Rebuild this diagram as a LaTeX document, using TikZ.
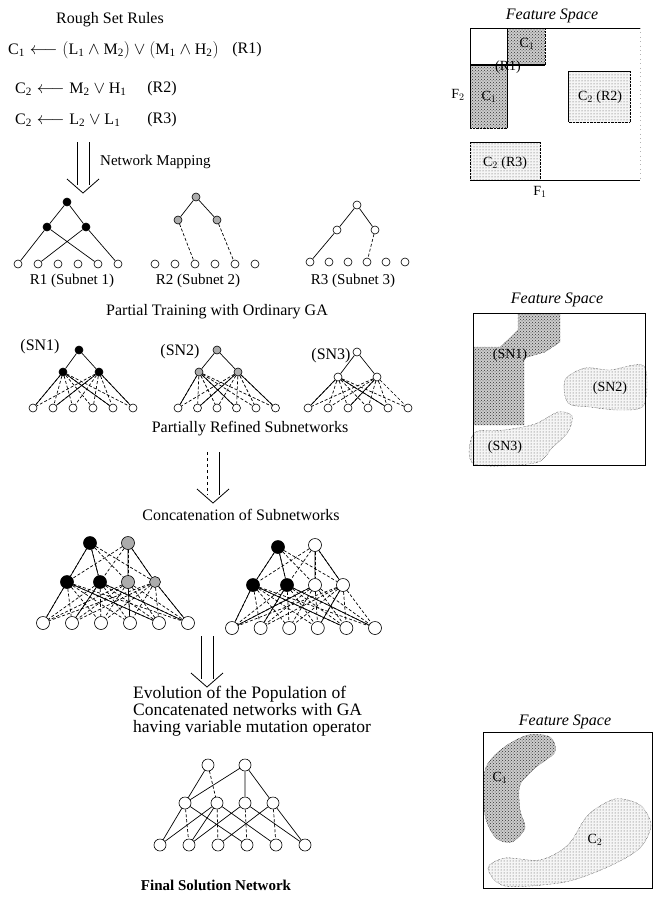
\documentclass[tikz,border=0pt]{standalone}
\usepackage{fontspec}
\setmainfont{Liberation Serif}
\usetikzlibrary{patterns}

\tikzset{
  unit/.style={circle, draw, inner sep=0pt, minimum size=8pt, line width=0.6pt},
  unitB/.style={unit, fill=black},
  unitG/.style={unit, fill=gray!65},
  unitW/.style={unit, fill=white},
  bigB/.style={unitB, minimum size=13pt},
  bigG/.style={unitG, minimum size=13pt},
  bigW/.style={unitW, minimum size=13pt},
  wire/.style={line width=0.7pt},
  dwire/.style={wire, dash pattern=on 3pt off 2pt},
  lbl/.style={font=\fontsize{16}{18}\selectfont, inner sep=0pt},
  fstitle/.style={font=\fontsize{16}{18}\selectfont\itshape, inner sep=0pt},
  zlbl/.style={font=\fontsize{14}{16}\selectfont, inner sep=0pt},
  frame/.style={line width=0.9pt},
  darkzone/.style={preaction={fill=gray!40}, pattern=crosshatch dots, pattern color=black!80},
  lightzone/.style={preaction={fill=gray!8}, pattern=dots, pattern color=black!70},
  pics/bigdown/.style={code={
    \draw[line width=0.8pt, #1] (-6,0) -- (-6,43);
    \draw[line width=0.8pt] (6,0) -- (6,43);
    \draw[line width=0.8pt] (-16,37) -- (0,51) -- (16,37);
  }},
  pics/bigdown/.default=solid
}

\begin{document}
\begin{tikzpicture}[x=1pt, y=-1pt]
  \useasboundingbox (0,0) rectangle (654,897);

  % rough set rules
  \node[lbl] (title) at (110,20) {Rough Set Rules};
  \node[lbl, anchor=west] (rule1) at (8,50) {$\mathrm{C_1} \longleftarrow (\mathrm{L_1} \wedge \mathrm{M_2}) \vee (\mathrm{M_1} \wedge \mathrm{H_2})$};
  \node[lbl] (tag1) at (247,50) {(R1)};
  \node[lbl, anchor=west] (rule2) at (15,89) {$\mathrm{C_2} \longleftarrow \mathrm{M_2} \vee \mathrm{H_1}$};
  \node[lbl] (tag2) at (162,89) {(R2)};
  \node[lbl, anchor=west] (rule3) at (15,120) {$\mathrm{C_2} \longleftarrow \mathrm{L_2} \vee \mathrm{L_1}$};
  \node[lbl] (tag3) at (162,120) {(R3)};

  \pic at (83,142) {bigdown};
  \node[lbl, font=\fontsize{15}{17}\selectfont, anchor=west] (mapping) at (100,162) {Network Mapping};

  % subnets from the rules
  \node[unitB] (s1t) at (67,202) {};
  \node[unitB] (s1h1) at (47,227) {};
  \node[unitB] (s1h2) at (86,227) {};
  \node[unitG] (s2t) at (196,197) {};
  \node[unitG] (s2h1) at (178,220) {};
  \node[unitG] (s2h2) at (217,220) {};
  \node[unitW] (s3t) at (357,205) {};
  \node[unitW] (s3h1) at (337,230) {};
  \node[unitW] (s3h2) at (375,230) {};
  \foreach \k in {1,...,6} {
    \node[unitW] (s1i\k) at ({18+20*(\k-1)},264) {};
    \node[unitW] (s2i\k) at ({155+20*(\k-1)},264) {};
    \node[unitW] (s3i\k) at ({310+19*(\k-1)},262) {};
  }
  \draw[wire] (s1t) -- (s1h1) (s1t) -- (s1h2);
  \draw[wire] (s1h1) -- (s1i1) (s1h1) -- (s1i5) (s1h2) -- (s1i2) (s1h2) -- (s1i6);
  \draw[wire] (s2t) -- (s2h1) (s2t) -- (s2h2);
  \draw[dwire] (s2h1) -- (s2i3) (s2h2) -- (s2i5);
  \draw[wire] (s3t) -- (s3h1) (s3t) -- (s3h2) (s3h1) -- (s3i1);
  \draw[dwire] (s3h2) -- (s3i4);
  \node[lbl, font=\fontsize{15}{17}\selectfont] (cap1) at (72,281) {R1 (Subnet 1)};
  \node[lbl, font=\fontsize{15}{17}\selectfont] (cap2) at (198,281) {R2 (Subnet 2)};
  \node[lbl, font=\fontsize{15}{17}\selectfont] (cap3) at (353,281) {R3 (Subnet 3)};

  \node[lbl] (partial) at (217,312) {Partial Training with Ordinary GA};

  % partially refined subnetworks
  \node[unitB] (n1t) at (79,350) {};
  \node[unitB] (n1h1) at (63,372) {};
  \node[unitB] (n1h2) at (99,372) {};
  \node[unitG] (n2t) at (217,350) {};
  \node[unitG] (n2h1) at (199,372) {};
  \node[unitG] (n2h2) at (238,372) {};
  \node[unitW] (n3t) at (357,352) {};
  \node[unitW] (n3h1) at (338,377) {};
  \node[unitW] (n3h2) at (377,377) {};
  \foreach \k in {1,...,6} {
    \node[unitW] (n1i\k) at ({33+20*(\k-1)},408) {};
    \node[unitW] (n2i\k) at ({178+19.5*(\k-1)},408) {};
    \node[unitW] (n3i\k) at ({308+20*(\k-1)},408) {};
  }
  \foreach \n in {n1,n2,n3} {
    \draw[wire] (\n t) -- (\n h1) (\n t) -- (\n h2);
    \foreach \k in {1,...,6} {
      \draw[dwire] (\n h1) -- (\n i\k);
      \draw[dwire] (\n h2) -- (\n i\k);
    }
  }
  \draw[wire] (n1h1) -- (n1i1) (n1h1) -- (n1i5) (n1h2) -- (n1i2) (n1h2) -- (n1i6);
  \draw[wire] (n2h1) -- (n2i1) (n2h1) -- (n2i4) (n2h2) -- (n2i2) (n2h2) -- (n2i6);
  \draw[wire] (n3h1) -- (n3i1) (n3h1) -- (n3i5) (n3h2) -- (n3i3);
  \node[lbl] (sn1) at (40,347) {(SN1)};
  \node[lbl] (sn2) at (180,352) {(SN2)};
  \node[lbl] (sn3) at (331,356) {(SN3)};

  \node[lbl] (refined) at (250,429) {Partially Refined Subnetworks};
  \pic at (213,452) {bigdown=dashed};
  \node[lbl] (concat) at (241,515) {Concatenation of Subnetworks};

  % concatenated networks
  \node[bigB] (c1t1) at (90,543) {};
  \node[bigG] (c1t2) at (128,543) {};
  \node[bigB] (c1h1) at (67,582) {};
  \node[bigB] (c1h2) at (100,582) {};
  \node[bigG] (c1h3) at (128,582) {};
  \node[bigG, minimum size=11pt] (c1h4) at (155,582) {};
  \node[bigB] (c2t1) at (278,547) {};
  \node[bigW] (c2t2) at (315,545) {};
  \node[bigB] (c2h1) at (253,585) {};
  \node[bigB] (c2h2) at (287,585) {};
  \node[bigW] (c2h3) at (315,585) {};
  \node[bigW] (c2h4) at (343,585) {};
  \foreach \k in {1,...,6} {
    \node[bigW] (c1i\k) at ({43+29*(\k-1)},623) {};
    \node[bigW] (c2i\k) at ({232+28.6*(\k-1)},628) {};
  }
  \foreach \n in {c1,c2} {
    \foreach \j in {1,...,4} {
      \draw[dwire] (\n t1) -- (\n h\j);
      \draw[dwire] (\n t2) -- (\n h\j);
      \foreach \k in {1,...,6}
        \draw[dwire] (\n h\j) -- (\n i\k);
    }
    \draw[wire] (\n t1) -- (\n h1) (\n t1) -- (\n h2) (\n t2) -- (\n h3) (\n t2) -- (\n h4);
    \draw[wire] (\n h1) -- (\n i1) (\n h1) -- (\n i5) (\n h2) -- (\n i2) (\n h2) -- (\n i6);
  }
  \draw[wire] (c1h3) -- (c1i4) (c1h4) -- (c1i6);
  \draw[wire] (c2h3) -- (c2i1) (c2h4) -- (c2i4);

  \pic at (207,636) {bigdown};
  \node[lbl, font=\fontsize{17.5}{17}\selectfont, anchor=west, align=left] (evolve) at (133,711)
    {Evolution of the Population of\\Concatenated networks with GA\\having variable mutation operator};

  % final network
  \node[bigW, minimum size=12pt] (ft1) at (208,765) {};
  \node[bigW, minimum size=12pt] (ft2) at (245,765) {};
  \foreach \j/\x in {1/185,2/217,3/245,4/273}
    \node[bigW, minimum size=12pt] (fh\j) at (\x,803) {};
  \foreach \k in {1,...,6}
    \node[bigW, minimum size=12pt] (fi\k) at ({160+29*(\k-1)},845) {};
  \draw[wire] (ft1) -- (fh1) (ft2) -- (fh1) (ft2) -- (fh3) (ft2) -- (fh4);
  \draw[dwire] (ft1) -- (fh2);
  \draw[wire] (fh1) -- (fi1) (fh1) -- (fi4) (fh2) -- (fi1) (fh2) -- (fi2) (fh2) -- (fi5)
    (fh3) -- (fi2) (fh3) -- (fi6) (fh4) -- (fi3) (fh4) -- (fi6);
  \draw[dwire] (fh1) -- (fi2) (fh3) -- (fi4) (fh4) -- (fi5) (fh2) -- (fi3);
  \node[lbl, font=\fontsize{15}{17}\selectfont\bfseries] (final) at (216,885) {Final Solution Network};

  % feature space of the rules
  \node[fstitle] (fs1) at (552,16) {Feature Space};
  \fill[darkzone] (507,28) rectangle (545,65);
  \fill[darkzone] (470,65) rectangle (507,128);
  \fill[lightzone] (568,71) rectangle (630,122);
  \fill[lightzone] (470,142) rectangle (540,180);
  \draw[frame] (470,28) -- (640,28);
  \draw[frame] (470,180) -- (640,180);
  \draw[frame] (470,28) -- (470,128);
  \draw[frame] (507,28) -- (507,128);
  \draw[frame, line width=1.3pt] (470,65) -- (545,65);
  \draw[frame] (568,122) -- (568,71) -- (630,71);
  \draw[frame] (470,142) -- (540,142);
  \draw[densely dotted] (630,71) -- (630,122) -- (568,122);
  \draw[densely dotted] (545,28) -- (545,65);
  \draw[densely dotted] (470,128) -- (507,128);
  \draw[densely dotted] (540,142) -- (540,180);
  \draw[densely dotted] (470,142) -- (470,180);
  \draw[loosely dotted, gray!60] (640,28) -- (640,180);
  \node[zlbl] (fc1a) at (527,44) {C$_1$};
  \node[zlbl] (fr1) at (508,67) {(R1)};
  \node[zlbl] (fc1b) at (489,97) {C$_1$};
  \node[zlbl] (ff2) at (458,95) {F$_2$};
  \node[zlbl] (fc2a) at (600,97) {C$_2$ (R2)};
  \node[zlbl] (fc2b) at (505,163) {C$_2$ (R3)};
  \node[zlbl] (ff1) at (540,192) {F$_1$};

  % feature space of the subnetworks
  \node[fstitle] (fs2) at (557,300) {Feature Space};
  \filldraw[darkzone, densely dotted] (518,314) -- (560,314) -- (560,342) -- (545,352) -- (524,358)
    -- (524,425) -- (474,425) -- (474,347) -- (500,347) -- (510,338) -- (518,330) -- cycle;
  \filldraw[lightzone, densely dotted] plot[smooth cycle] coordinates
    {(565,380) (585,368) (610,370) (644,366) (644,405) (620,410) (590,407) (568,403)};
  \filldraw[lightzone, densely dotted] plot[smooth cycle] coordinates
    {(474,433) (505,430) (535,424) (558,412) (572,416) (568,432) (552,448) (535,463) (474,464)};
  \draw[frame] (473,313) rectangle (645,465);
  \node[zlbl] (fsn1) at (510,355) {(SN1)};
  \node[zlbl] (fsn2) at (610,388) {(SN2)};
  \node[zlbl] (fsn3) at (505,447) {(SN3)};

  % feature space of the final network
  \node[fstitle] (fs3) at (565,722) {Feature Space};
  \filldraw[darkzone, densely dotted] plot[smooth cycle] coordinates
    {(485,770) (503,748) (528,735) (550,737) (555,752) (535,768) (520,785) (520,810) (525,828) (512,842) (496,838) (485,815)};
  \filldraw[lightzone, densely dotted] plot[smooth cycle] coordinates
    {(488,868) (505,858) (540,860) (568,845) (588,815) (615,799) (640,805) (651,825) (640,848) (610,866) (565,882) (505,886)};
  \draw[frame] (483,732) rectangle (652,888);
  \node[zlbl] (fc1) at (500,778) {C$_1$};
  \node[zlbl] (fc2) at (595,840) {C$_2$};
\end{tikzpicture}
\end{document}
